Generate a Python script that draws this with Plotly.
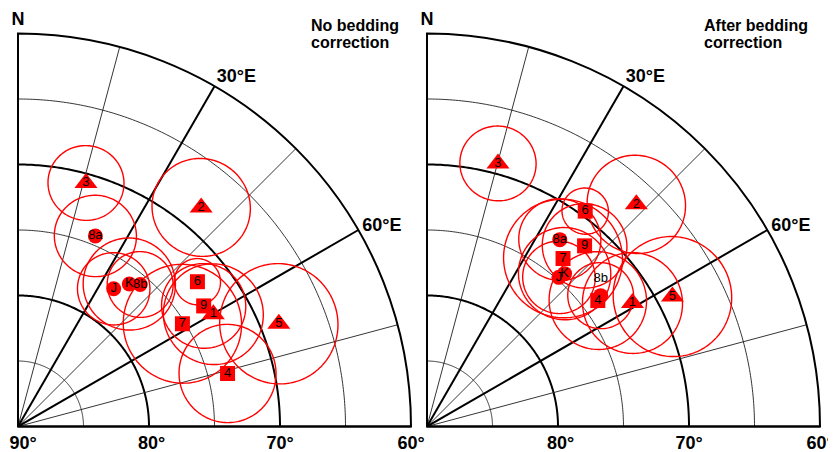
import numpy as np
import plotly.graph_objects as go

# ---------------- data ----------------
site_labels = ["8a", "8b", "J", "K", "1", "2", "3", "4", "5", "6", "7", "9"]
site_kind = ["circle", "circle", "circle", "circle",
             "triangle-up", "triangle-up", "triangle-up", "square",
             "triangle-up", "square", "square", "square"]

# alpha95 (deg) of each site mean (same in both coordinate systems)
site_a95 = [3.1, 2.5, 2.75, 3.5, 3.8, 3.7, 2.85, 3.7, 4.5, 1.75, 4.5, 3.2]

# No bedding correction (geographic)
geo_dec = [22.1, 40.7, 34.8, 38.0, 60.1, 39.9, 15.6, 75.8, 68.5, 51.1, 58.0, 57.0]
geo_inc = [74.3, 75.7, 77.2, 76.2, 72.8, 68.2, 70.7, 73.5, 68.6, 72.4, 75.2, 73.1]

# After bedding correction (stratigraphic)
str_dec = [35.4, 53.0, 41.5, 42.0, 59.0, 43.3, 15.1, 53.6, 62.1, 36.3, 39.0, 41.1]
str_inc = [72.5, 73.4, 74.8, 74.3, 71.7, 66.7, 69.2, 73.8, 68.8, 69.6, 73.5, 71.7]

panel_titles = [["No bedding", "correction"], ["After bedding", "correction"]]

# grid definition (inclination / declination)
inc_ticks = [90, 80, 70, 60]
inc_tick_text_left = ["\u00a0\u00a090°", "\u00a080°", "70°", "60°"]
inc_tick_text_right = ["", "\u00a080°", "70°", "60°"]
inc_thin = [85, 75, 65]
inc_thick = [80, 70]
dec_thin = [15, 45, 75]
dec_thick = [0, 30, 60]
dec_tick_labels = ["N", "30°E", "60°E"]

RED = "#ff0000"


def small_circle(dec, inc, a95, n=181):
    c = np.radians(90.0 - inc)
    d = np.radians(dec)
    a = np.radians(a95)
    p = np.array([np.sin(c) * np.cos(d), np.sin(c) * np.sin(d), np.cos(c)])
    u = np.array([np.cos(c) * np.cos(d), np.cos(c) * np.sin(d), -np.sin(c)])
    v = np.array([-np.sin(d), np.cos(d), 0.0])
    t = np.linspace(0, 2 * np.pi, n)
    pts = np.cos(a) * p[:, None] + np.sin(a) * (np.cos(t) * u[:, None] + np.sin(t) * v[:, None])
    colat = np.degrees(np.arccos(np.clip(pts[2], -1, 1)))
    az = np.degrees(np.arctan2(pts[1], pts[0]))
    return colat, az


fig = go.Figure()

panels = [("polar", geo_dec, geo_inc), ("polar2", str_dec, str_inc)]
sym_size = {"circle": 15, "square": 15, "triangle-up": 20}

for sp, decs, incs in panels:
    arc_t = np.linspace(0, 90, 181)
    for inc in inc_thin:
        fig.add_trace(go.Scatterpolar(r=[90 - inc] * len(arc_t), theta=arc_t, mode="lines",
                                      line=dict(color="#1e1e1e", width=0.9), subplot=sp,
                                      hoverinfo="skip", cliponaxis=False))
    for inc in inc_thick:
        fig.add_trace(go.Scatterpolar(r=[90 - inc] * len(arc_t), theta=arc_t, mode="lines",
                                      line=dict(color="black", width=2), subplot=sp,
                                      hoverinfo="skip", cliponaxis=False))
    for d in dec_thin:
        fig.add_trace(go.Scatterpolar(r=[0, 30], theta=[d, d], mode="lines",
                                      line=dict(color="#1e1e1e", width=0.9), subplot=sp,
                                      hoverinfo="skip", cliponaxis=False))
    for d in dec_thick:
        fig.add_trace(go.Scatterpolar(r=[0, 30], theta=[d, d], mode="lines",
                                      line=dict(color="black", width=2), subplot=sp,
                                      hoverinfo="skip", cliponaxis=False))
    # confidence circles
    rr, tt = [], []
    for d, i, a in zip(decs, incs, site_a95):
        colat, az = small_circle(d, i, a)
        rr += list(colat) + [None]
        tt += list(az) + [None]
    fig.add_trace(go.Scatterpolar(r=rr, theta=tt, mode="lines", connectgaps=False,
                                  line=dict(color=RED, width=1.4), subplot=sp,
                                  hoverinfo="skip", cliponaxis=False))
    # site means
    tpos = ["middle center"] * len(site_labels)
    if sp == "polar2":
        tpos[site_labels.index("8b")] = "top center"
    fig.add_trace(go.Scatterpolar(
        r=[90 - i for i in incs], theta=decs, mode="markers+text",
        text=site_labels, textposition=tpos, opacity=1,
        textfont=dict(family="Arial, Liberation Sans, sans-serif", size=13, color="black"),
        marker=dict(symbol=site_kind, size=[sym_size[k] for k in site_kind], color=RED,
                    opacity=1, line=dict(width=0)),
        subplot=sp, cliponaxis=False, hoverinfo="text"))

tick_font = dict(family="Arial, Liberation Sans, sans-serif", size=18, color="black")


def polar_layout(x0, x1, y0, y1, rtext):
    return dict(
        domain=dict(x=[x0 / 836, x1 / 836], y=[y0 / 452, y1 / 452]),
        sector=[0, 90],
        bgcolor="white",
        angularaxis=dict(rotation=90, direction="clockwise", tickmode="array",
                         tickvals=dec_thick, ticktext=[f"<b>{t}</b>" for t in dec_tick_labels],
                         showgrid=False, showline=True, linecolor="black", linewidth=2,
                         ticks="", tickfont=tick_font),
        radialaxis=dict(range=[0, 30], tickmode="array", tickvals=[90 - v for v in inc_ticks],
                        ticktext=[f"<b>{t}</b>" if t else "" for t in rtext], angle=0,
                        side="clockwise",
                        showgrid=False, showline=True, linecolor="black", linewidth=2,
                        ticks="", tickfont=tick_font),
    )


title_font = dict(family="Arial, Liberation Sans, sans-serif", size=16, color="black")
annotations = []
for tx, lines in zip([301, 694], panel_titles):
    for k, line in enumerate(lines):
        annotations.append(dict(text=f"<b>{line}</b>", x=tx / 836, y=1 - (7 + 17 * k) / 452,
                                xref="paper", yref="paper", xanchor="left", yanchor="top",
                                showarrow=False, font=title_font))

fig.update_layout(
    width=836, height=452,
    margin=dict(l=0, r=0, t=0, b=0),
    paper_bgcolor="white", plot_bgcolor="white",
    showlegend=False,
    polar=polar_layout(10, 403, 32, 428, inc_tick_text_left),
    polar2=polar_layout(419, 812, 32, 428, inc_tick_text_right),
    annotations=annotations,
)

fig.write_html("out.html")
